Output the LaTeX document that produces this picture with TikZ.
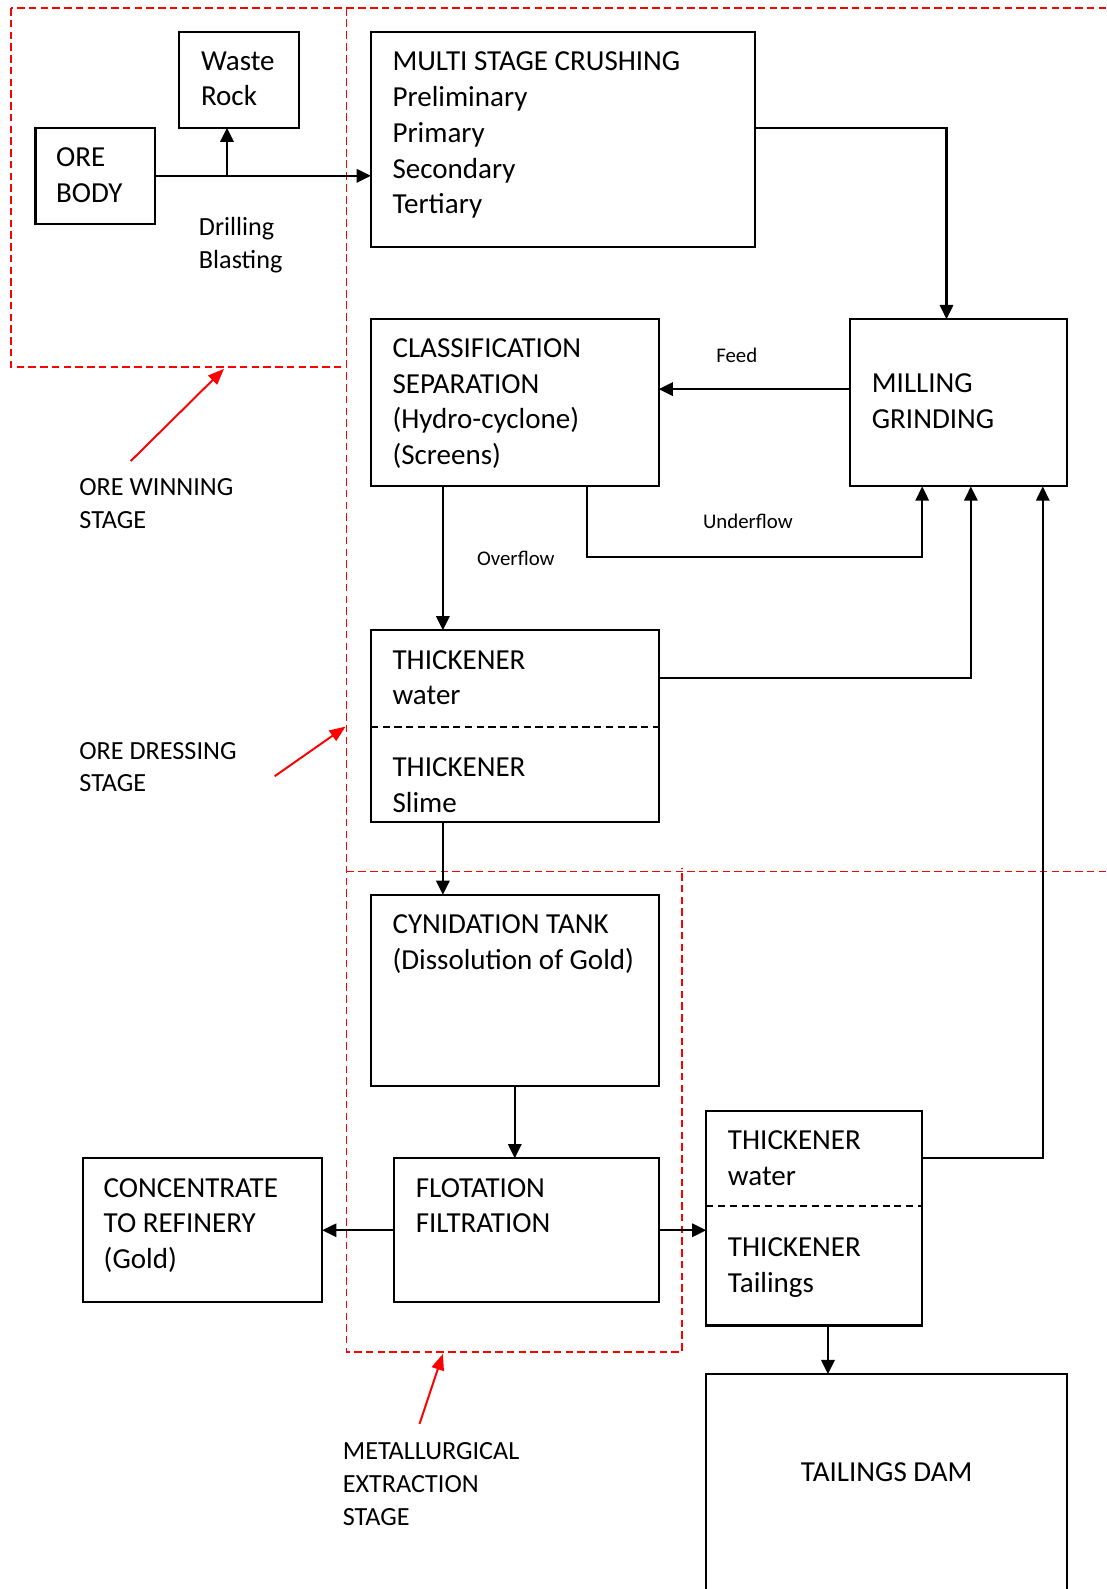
\documentclass[tikz,border=0pt]{standalone}
\usepackage{fontspec}
\setmainfont{Carlito}
\usetikzlibrary{arrows.meta}
\newcommand\boxfont{\fontsize{16.3}{20.1}\selectfont}
\newcommand\stagefont{\fontsize{14.7}{18.4}\selectfont}
\newcommand\smallfont{\fontsize{11.7}{14}\selectfont}
\begin{document}
\begin{tikzpicture}[x=0.02cm,y=-0.02cm,
  box/.style={draw,line width=1.2pt,inner sep=0pt,outer sep=0pt,anchor=north west},
  txt/.style={anchor=base west,inner sep=0pt,align=left,font=\boxfont},
  stagetxt/.style={anchor=base west,inner sep=0pt,align=left,font=\stagefont},
  lbl/.style={inner sep=0pt,font=\smallfont},
  arr/.style={line width=1.2pt,-{Triangle[length=8pt,width=7.5pt]}},
  divider/.style={line width=1pt,dash pattern=on 4pt off 2.6pt},
  stage/.style={red,line width=1pt,dash pattern=on 4.2pt off 2.4pt},
  redarr/.style={red,line width=1.1pt,-{Triangle[length=9pt,width=7pt]}}]
\useasboundingbox (0,0) rectangle (1092,1568);

% stage boundaries
\draw[stage] (11,8) rectangle (342,362);
\draw[stage] (342,8) -- (1092,8);
\draw[stage] (342,8) -- (342,1334) -- (673,1334) -- (673,857);
\draw[stage] (342,860) -- (1092,860);

% process boxes
\node[box,minimum width=2.36cm,minimum height=1.88cm] (waste) at (177,32) {};
\node[box,minimum width=2.36cm,minimum height=1.90cm] (ore) at (35,126) {};
\node[box,minimum width=7.58cm,minimum height=4.24cm] (multi) at (366,32) {};
\node[box,minimum width=5.68cm,minimum height=3.30cm] (classif) at (366,315) {};
\node[box,minimum width=4.28cm,minimum height=3.30cm] (mill) at (839,315) {};
\node[box,minimum width=5.68cm,minimum height=3.78cm] (thickA) at (366,622) {};
\node[box,minimum width=5.68cm,minimum height=3.78cm] (cyan) at (366,883) {};
\node[box,minimum width=5.22cm,minimum height=2.84cm] (flot) at (389,1143) {};
\node[box,minimum width=4.72cm,minimum height=2.84cm] (conc) at (82,1143) {};
\node[box,minimum width=4.26cm,minimum height=4.24cm] (thickB) at (697,1096) {};
\node[box,minimum width=7.12cm,minimum height=4.40cm] (dam) at (697,1356) {};

% thickener compartments
\coordinate (dA) at (0,717);
\coordinate (dB) at (0,1190);
\draw[divider] (thickA.west |- dA) -- (thickA.east |- dA);
\draw[divider] (thickB.west |- dB) -- (thickB.east |- dB);

% box texts (placed by the baseline of their last line)
\node[txt] (wasteT) at (198,104.5) {Waste\\Rock};
\node[txt] (oreT) at (55,199.5) {ORE\\BODY};
\node[txt] (multiT) at (387,211) {MULTI STAGE CRUSHING\\Preliminary\\Primary\\Secondary\\Tertiary};
\node[txt] (classifT) at (387,458.5) {CLASSIFICATION\\SEPARATION\\(Hydro-cyclone)\\(Screens)};
\node[txt] (millT) at (860,422.5) {MILLING\\GRINDING};
\node[txt] (thickAT) at (387,695.5) {THICKENER\\water};
\node[txt] (thickAS) at (387,801.5) {THICKENER\\Slime};
\node[txt] (cyanT) at (387,956.5) {CYNIDATION TANK\\(Dissolution of Gold)};
\node[txt] (flotT) at (410,1216.5) {FLOTATION\\FILTRATION};
\node[txt] (concT) at (102,1252) {CONCENTRATE\\TO REFINERY\\(Gold)};
\node[txt] (thickBT) at (718,1169.5) {THICKENER\\water};
\node[txt] (thickBS) at (718,1275.5) {THICKENER\\Tailings};
\node[font=\boxfont,inner sep=0pt] (damT) at (875,1453) {TAILINGS DAM};

% side texts
\node[stagetxt] (drill) at (196,265) {Drilling\\Blasting};
\node[stagetxt] (winT) at (78,521.5) {ORE WINNING\\STAGE};
\node[stagetxt] (dressT) at (78,781.5) {ORE DRESSING\\STAGE};
\node[stagetxt] (metT) at (338,1505) {METALLURGICAL\\EXTRACTION\\STAGE};
\node[lbl] (feedL) at (727,351) {Feed};
\node[lbl] (underL) at (738,514) {Underflow};
\node[lbl] (overL) at (509,551) {Overflow};

% ore winning flow
\coordinate (br) at (224,174);
\draw[arr] (ore.east) -- (ore.east -| multi.west);
\draw[arr] (br) -- (br |- waste.south);

% crushing to milling
\coordinate (m1) at (934,126);
\draw[arr] (m1 -| multi.east) -- (m1) -- (m1 |- mill.north);

% milling feed to classification
\coordinate (f1) at (839,384);
\draw[arr] (f1 -| mill.west) -- (f1 -| classif.east);

% overflow and slime path
\coordinate (xo) at (437,0);
\draw[arr] (classif.south -| xo) -- (thickA.north -| xo);
\draw[arr] (thickA.south -| xo) -- (cyan.north -| xo);

% underflow back to mill
\coordinate (u1) at (579,550);
\coordinate (u2) at (910,550);
\draw[arr] (classif.south -| u1) -- (u1) -- (u2) -- (mill.south -| u2);

% thickener water returns
\coordinate (w1) at (958,669);
\draw[arr] (w1 -| thickA.east) -- (w1) -- (mill.south -| w1);
\coordinate (w2) at (1029,1143);
\draw[arr] (w2 -| thickB.east) -- (w2) -- (mill.south -| w2);

% extraction
\draw[arr] (cyan.south) -- (cyan.south |- flot.north);
\draw[arr] (flot.west) -- (flot.west -| conc.east);
\draw[arr] (flot.east) -- (flot.east -| thickB.west);
\coordinate (xd) at (817,0);
\draw[arr] (thickB.south -| xd) -- (dam.north -| xd);

% stage pointers
\coordinate (pA) at (129,455);
\coordinate (pAt) at (221,364);
\coordinate (pB) at (271,766);
\coordinate (pBt) at (341,717);
\coordinate (pC) at (414,1405);
\coordinate (pCt) at (437,1336);
\draw[redarr] (pA) -- (pAt);
\draw[redarr] (pB) -- (pBt);
\draw[redarr] (pC) -- (pCt);
\end{tikzpicture}
\end{document}
